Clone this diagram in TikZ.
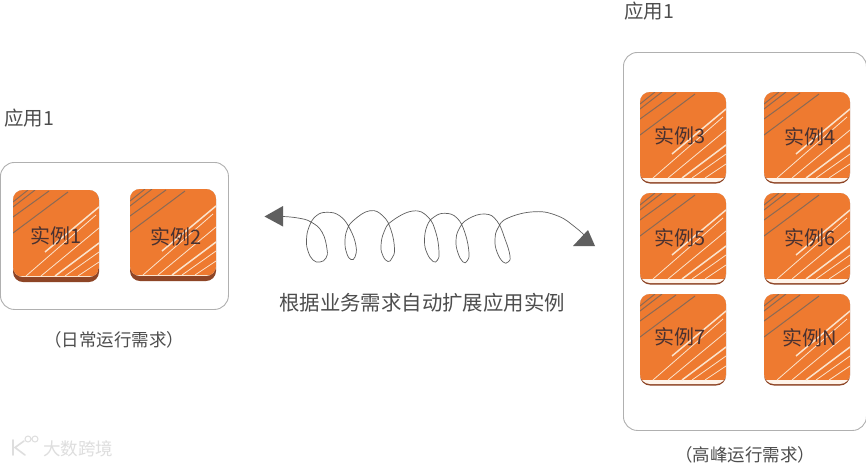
\documentclass[tikz,border=0pt]{standalone}
\usepackage{fontspec}
\setmainfont{Noto Sans CJK SC}
\definecolor{cardorange}{HTML}{EE7A30}
\definecolor{cardbrown}{HTML}{8E4526}
\definecolor{stripedark}{HTML}{8A6A55}
\definecolor{stripelight}{HTML}{FBE3CC}
\definecolor{bandlight}{HTML}{FFF4EA}
\definecolor{inktext}{HTML}{4A3230}
\definecolor{labeltext}{HTML}{4D4D4D}
\definecolor{framegray}{HTML}{B0B0B0}
\definecolor{arrowgray}{HTML}{5F5F5F}
\definecolor{markgray}{HTML}{DEDEDE}
\tikzset{
  x=1pt,y=-1pt,
  framebox/.style={draw=framegray,line width=.9pt,rounded corners=14pt,anchor=north west,inner sep=0pt},
  cardtext/.style={text=inktext,font=\fontsize{20}{20}\selectfont,inner sep=0pt},
  label/.style={text=labeltext,inner sep=0pt},
  darkstripe/.style={draw=stripedark,line width=1pt},
  lightstripe/.style={draw=stripelight,line width=.8pt},
  widestripe/.style={draw=stripelight,line width=1.5pt},
  spiral/.style={draw=arrowgray,line width=.7pt},
  tipfill/.style={fill=arrowgray},
}
% rounded outline of height #1, width 86, local system of a card
\newcommand{\cardoutline}[1]{(0,40) [rounded corners=10pt] -- (0,0) -- (86,0) -- (86,#1) -- (0,#1) -- cycle}
% stripes drawn in the local system of a card (86 x 92)
\newcommand{\cardstripes}{%
  \draw[darkstripe] (0,43) -- (55,2);
  \draw[darkstripe] (0,27) -- (36,1);
  \draw[darkstripe] (0,17) -- (22,0);
  \draw[darkstripe] (0,12) -- (15,0);
  \draw[widestripe] (32,62) -- (86,17);
  \draw[lightstripe] (13,86) -- (83,25);
  \draw[lightstripe] (28,86) -- (86,38);
  \draw[widestripe] (42,86) -- (86,53);
  \draw[lightstripe] (52,86) -- (86,62);
  \draw[lightstripe] (65,86) -- (86,72);
}
% solid brown base card
\newcommand{\basecard}[5]{%
  \begin{scope}[shift={(#2,#3)}]
    \fill[cardbrown] \cardoutline{92};
    \begin{scope}
      \clip \cardoutline{87};
      \fill[stripelight] (0,0) rectangle (86,87);
      \fill[cardorange] (0,0) rectangle (86,86);
      \begin{scope}
        \clip (0,0) rectangle (86,86);
        \cardstripes
      \end{scope}
    \end{scope}
  \end{scope}
  \node[cardtext] (#1) at (#4) {#5};
}
% book-like card with light band and thin dark edge
\newcommand{\bookcard}[5]{%
  \begin{scope}[shift={(#2,#3)}]
    \fill[cardbrown] \cardoutline{91.5};
    \begin{scope}
      \clip \cardoutline{90};
      \fill[bandlight] (0,0) rectangle (86,91);
      \fill[cardorange] (0,0) rectangle (86,86);
      \begin{scope}
        \clip (0,0) rectangle (86,86);
        \cardstripes
      \end{scope}
    \end{scope}
  \end{scope}
  \node[cardtext] (#1) at (#4) {#5};
}
\begin{document}
\begin{tikzpicture}
\useasboundingbox (0,0) rectangle (866,464);
\fill[white] (0,0) rectangle (866,464);

% frames
\node[framebox,minimum width=228pt,minimum height=147pt] (leftframe) at (0,162) {};
\node[framebox,minimum width=243pt,minimum height=378pt] (rightframe) at (623,52) {};

% left cards
\basecard{c1}{13}{190}{56,236}{实例1}
\basecard{c2}{130}{189}{176,237}{实例2}

% right cards
\bookcard{c3}{640}{92}{680,136}{实例3}
\bookcard{c4}{764}{92}{810,137}{实例4}
\bookcard{c5}{640}{193}{680,238}{实例5}
\bookcard{c6}{764}{193}{810,238}{实例6}
\bookcard{c7}{640}{294}{680,337}{实例7}
\bookcard{cN}{764}{294}{810,338}{实例N}

% labels
\node[label,font=\fontsize{19.5}{19.5}\selectfont] (appleft) at (29,118) {应用1};
\node[label,font=\fontsize{19.5}{19.5}\selectfont] (appright) at (649,11) {应用1};
\node[label,font=\fontsize{20.4}{20.4}\selectfont] (caption) at (422,303) {根据业务需求自动扩展应用实例};
\node[label,font=\fontsize{17.5}{17.5}\selectfont] (dailynote) at (114,340) {（日常运行需求）};
\node[label,font=\fontsize{17.5}{17.5}\selectfont] (peaknote) at (745,455) {（高峰运行需求）};

% spiral connector with triangular ends
\coordinate (leftend) at (283,216.5);
\coordinate (rightend) at (585,236);
\fill[tipfill] (264.5,216.5) -- (283,206) -- (283,226.5) -- cycle;
\fill[tipfill] (573,246) -- (588,230) -- (595,246) -- cycle;
\draw[spiral] plot[smooth,tension=.75] coordinates {
 (283,216.5) (298,218) (311,222) (322,232) (327,249) (326,258) (320,262) (313,260) (308,251) (306.5,240) (309,227)
 (316,216) (327,212.3) (340,216) (350,229) (356,246) (355,257) (351,259.5) (347,254) (345,243) (347,230) (354,220)
 (370,210.7) (383,216) (391,230) (394.5,249) (392,258) (388,261.5) (383,256) (381,246) (384,232) (392,221)
 (413,211) (428,217) (436,233) (439,252) (437.5,260) (433,261.5) (427,253) (424.5,241) (427,226) (434,217)
 (445,213.3) (457,218) (465,233) (469,253) (467,261) (463,262) (458,253) (456,241) (459,229) (468,219)
 (485,214) (497,221) (505,239) (510,256) (508,262) (503,262) (497,252) (495,240) (498,228) (508,218)
 (535,211.7) (558,216) (575,227) (585,236)};

% watermark
\draw[markgray,line width=1.6pt,line cap=round] (13,440) -- (13,455) (24,441) -- (15,447.5) -- (25,455);
\draw[markgray,line width=1pt] (28,439) circle (3pt) (35,439) circle (3pt);
\node[text=markgray,inner sep=0pt,font=\fontsize{17.5}{17.5}\selectfont] (watermark) at (78,449) {大数跨境};
\end{tikzpicture}
\end{document}
